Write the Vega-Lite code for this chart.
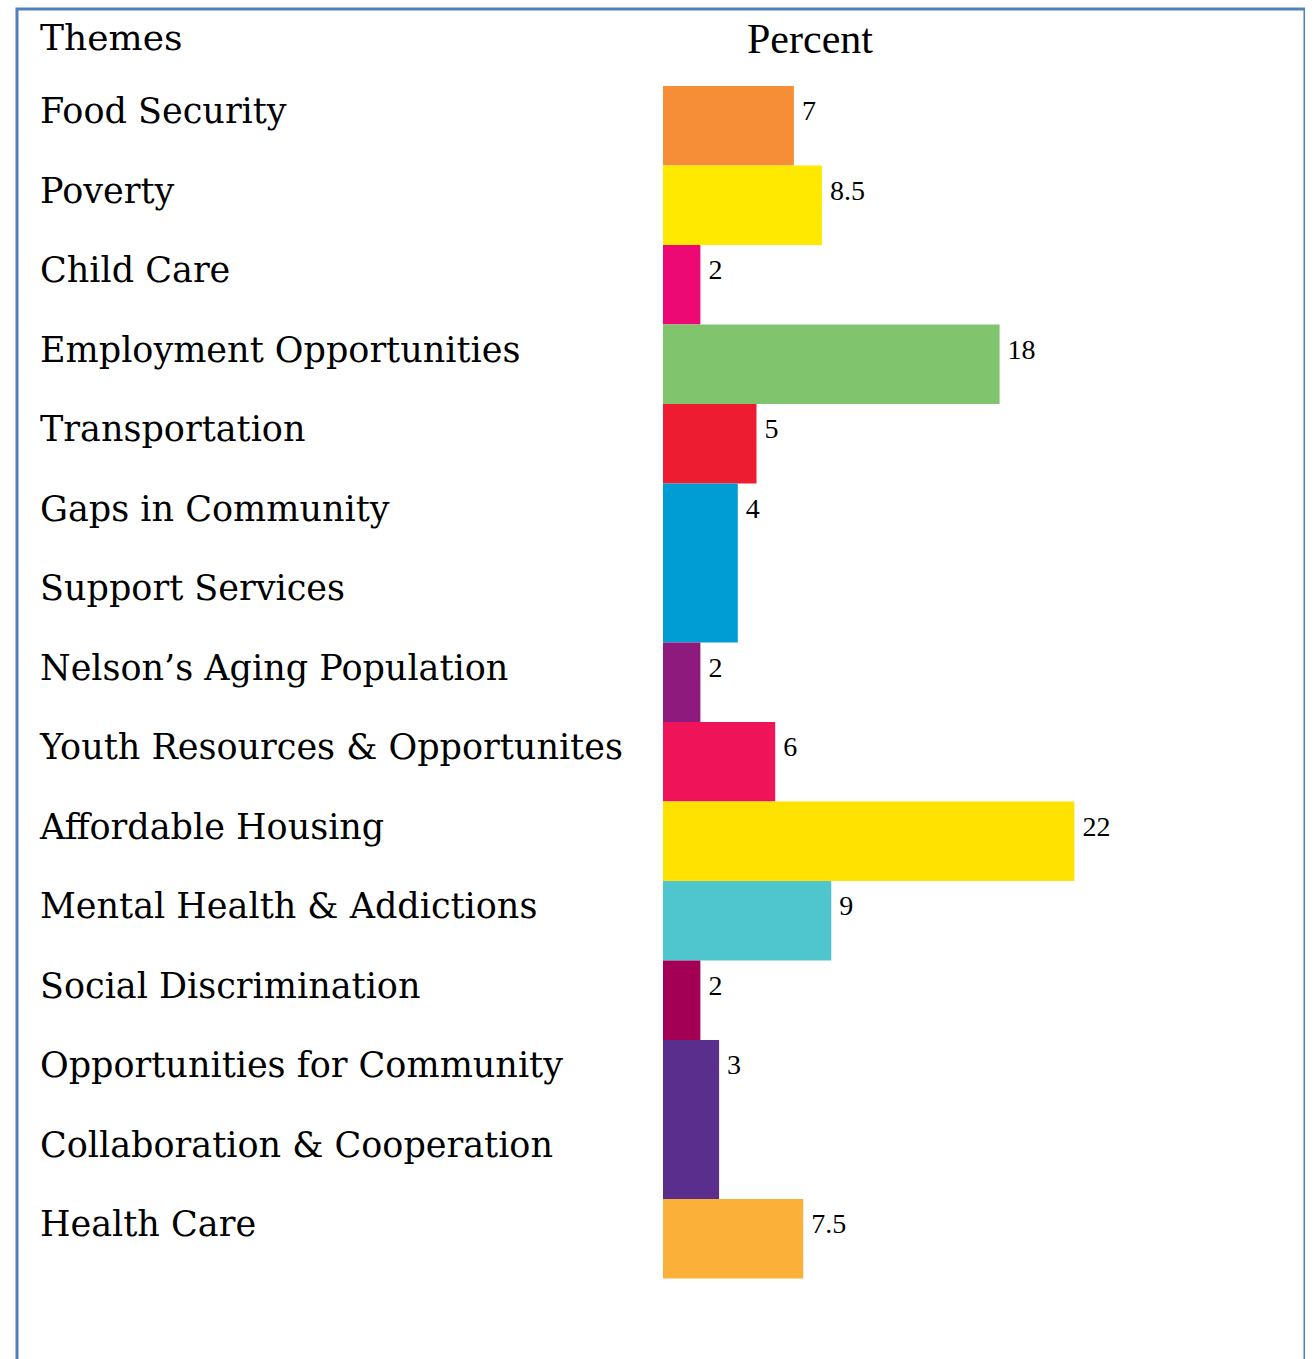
{
  "$schema": "https://vega.github.io/schema/vega-lite/v6.json",
  "width": 1288,
  "height": 1360,
  "autosize": {"type": "none"},
  "padding": {"left": 17, "top": 9, "right": 0, "bottom": 0},
  "background": "white",
  "config": {"view": {"stroke": "#4F81BD", "strokeWidth": 3}},
  "data": {
    "values": [
      {"rank": 1, "theme": "Food Security", "label": ["Food Security"], "lines": 1, "value": 7},
      {"rank": 2, "theme": "Poverty", "label": ["Poverty"], "lines": 1, "value": 8.5},
      {"rank": 3, "theme": "Child Care", "label": ["Child Care"], "lines": 1, "value": 2},
      {"rank": 4, "theme": "Employment Opportunities", "label": ["Employment Opportunities"], "lines": 1, "value": 18},
      {"rank": 5, "theme": "Transportation", "label": ["Transportation"], "lines": 1, "value": 5},
      {"rank": 6, "theme": "Gaps in Community Support Services", "label": ["Gaps in Community", "Support Services"], "lines": 2, "value": 4},
      {"rank": 7, "theme": "Nelson’s Aging Population", "label": ["Nelson’s Aging Population"], "lines": 1, "value": 2},
      {"rank": 8, "theme": "Youth Resources & Opportunites", "label": ["Youth Resources & Opportunites"], "lines": 1, "value": 6},
      {"rank": 9, "theme": "Affordable Housing", "label": ["Affordable Housing"], "lines": 1, "value": 22},
      {"rank": 10, "theme": "Mental Health & Addictions", "label": ["Mental Health & Addictions"], "lines": 1, "value": 9},
      {"rank": 11, "theme": "Social Discrimination", "label": ["Social Discrimination"], "lines": 1, "value": 2},
      {"rank": 12, "theme": "Opportunities for Community Collaboration & Cooperation", "label": ["Opportunities for Community", "Collaboration & Cooperation"], "lines": 2, "value": 3},
      {"rank": 13, "theme": "Health Care", "label": ["Health Care"], "lines": 1, "value": 7.5}
    ]
  },
  "transform": [
    {"stack": "lines", "groupby": [], "sort": [{"field": "rank", "order": "ascending"}], "as": ["start", "end"]}
  ],
  "layer": [
    {
      "mark": {"type": "bar"},
      "encoding": {
        "x": {"field": "value", "type": "quantitative", "axis": null,
              "scale": {"domain": [-34.545, 34.332], "zero": false, "nice": false}},
        "x2": {"datum": 0},
        "y": {"field": "start", "type": "quantitative", "axis": null,
              "scale": {"domain": [-0.9686, 16.138], "zero": false, "nice": false, "reverse": true}},
        "y2": {"field": "end"},
        "color": {
          "field": "theme", "type": "nominal", "legend": null,
          "scale": {
            "domain": ["Food Security", "Poverty", "Child Care", "Employment Opportunities", "Transportation", "Gaps in Community Support Services", "Nelson’s Aging Population", "Youth Resources & Opportunites", "Affordable Housing", "Mental Health & Addictions", "Social Discrimination", "Opportunities for Community Collaboration & Cooperation", "Health Care"],
            "range": ["#F68E38", "#FFE900", "#EC0973", "#80C56E", "#ED1C31", "#009CD4", "#8E1A7E", "#EF145A", "#FFE200", "#4FC5CD", "#A30055", "#5A2E8C", "#FBB03A"]
          }
        }
      }
    },
    {
      "mark": {"type": "text", "align": "left", "baseline": "alphabetic", "dy": 37, "font": "DejaVu Serif", "fontSize": 35, "lineHeight": 79.5, "color": "black"},
      "encoding": {
        "x": {"datum": -33.315, "type": "quantitative"},
        "y": {"field": "start", "type": "quantitative"},
        "text": {"field": "label"}
      }
    },
    {
      "mark": {"type": "text", "align": "left", "baseline": "alphabetic", "dx": 8, "dy": 34, "font": "Liberation Serif", "fontSize": 28, "color": "black"},
      "encoding": {
        "x": {"field": "value", "type": "quantitative"},
        "y": {"field": "start", "type": "quantitative"},
        "text": {"field": "value", "type": "quantitative"}
      }
    },
    {
      "data": {"values": [{"header": "Themes"}]},
      "mark": {"type": "text", "align": "left", "baseline": "alphabetic", "font": "DejaVu Serif", "fontSize": 36, "color": "black"},
      "encoding": {
        "x": {"datum": -33.315, "type": "quantitative"},
        "y": {"datum": -0.4528, "type": "quantitative"},
        "text": {"field": "header"}
      }
    },
    {
      "data": {"values": [{"header": "Percent"}]},
      "mark": {"type": "text", "align": "center", "baseline": "alphabetic", "font": "Liberation Serif", "fontSize": 42, "color": "black"},
      "encoding": {
        "x": {"datum": 7.86, "type": "quantitative"},
        "y": {"datum": -0.415, "type": "quantitative"},
        "text": {"field": "header"}
      }
    }
  ]
}
